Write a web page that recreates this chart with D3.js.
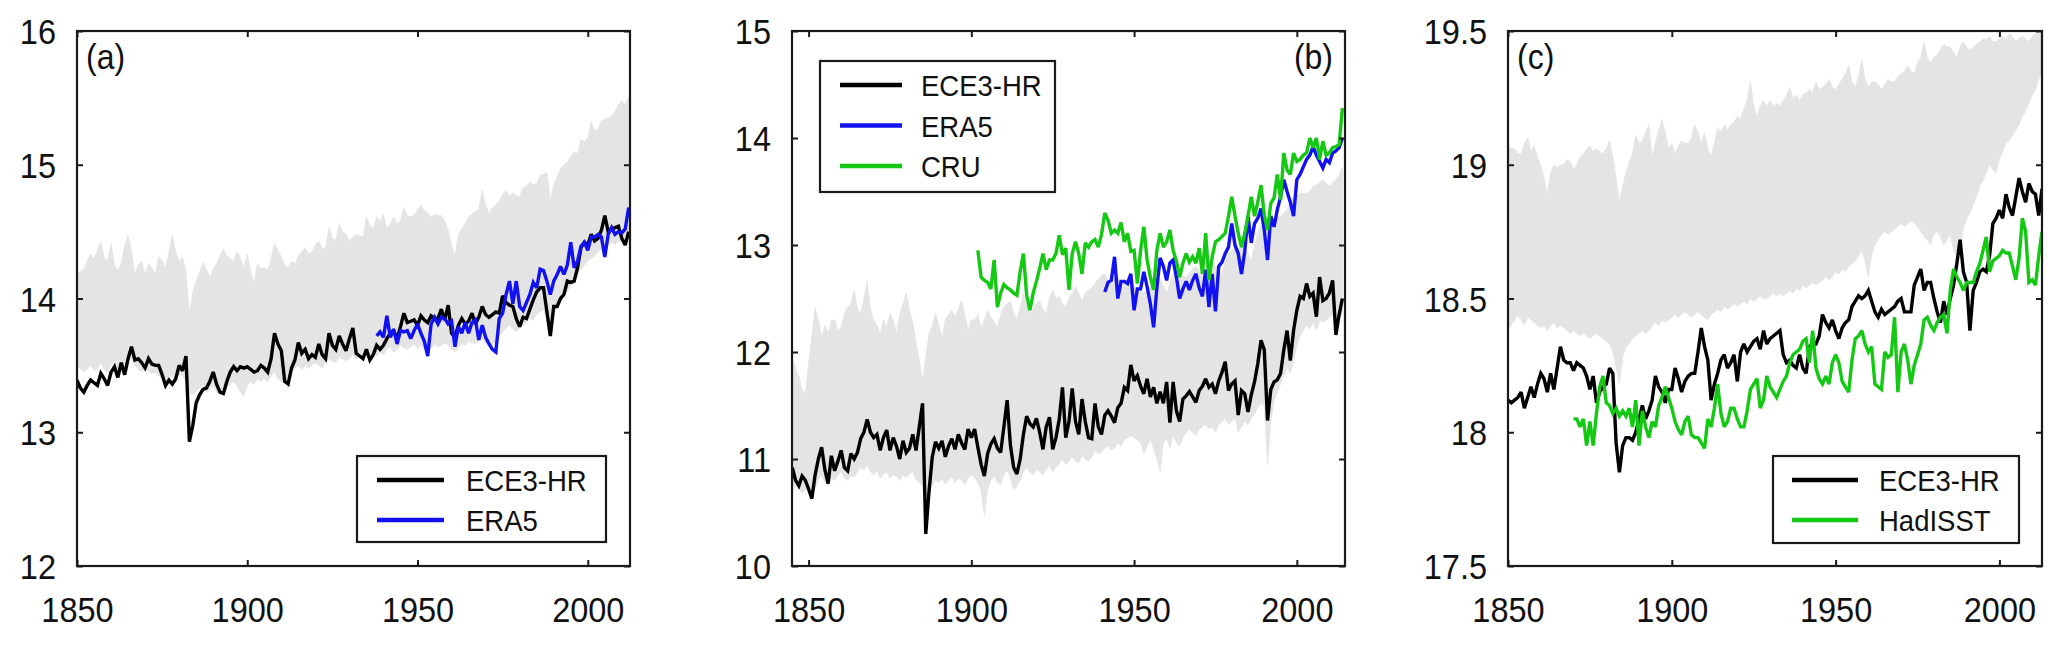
<!DOCTYPE html>
<html>
<head>
<meta charset="utf-8">
<script src="https://cdn.jsdelivr.net/npm/d3@7"></script>
<style>
  html, body { margin: 0; padding: 0; background: #ffffff; }
  svg { display: block; }
</style>
</head>
<body>
<svg id="chart" width="2067" height="646"></svg>
<script>
// ---------------- DATA ----------------
const xTickYears = [1850, 1900, 1950, 2000];

// Panel (a)
const yTicksA = [12, 13, 14, 15, 16];
const startEce3A = 1850;
const ece3A = [
  13.39,13.33,13.30,13.35,13.39,13.37,13.35,13.44,13.40,13.35,
  13.45,13.49,13.41,13.52,13.43,13.55,13.64,13.54,13.55,13.52,
  13.48,13.55,13.51,13.50,13.50,13.43,13.35,13.39,13.36,13.40,
  13.50,13.46,13.57,12.93,13.05,13.22,13.28,13.32,13.33,13.38,
  13.45,13.36,13.30,13.29,13.38,13.45,13.49,13.46,13.49,13.48,
  13.49,13.47,13.45,13.46,13.50,13.48,13.45,13.55,13.74,13.66,
  13.61,13.38,13.36,13.48,13.54,13.67,13.59,13.62,13.55,13.58,
  13.56,13.66,13.58,13.55,13.74,13.65,13.62,13.72,13.66,13.61,
  13.70,13.78,13.59,13.57,13.55,13.62,13.54,13.58,13.65,13.62,
  13.65,13.70,13.74,13.76,13.70,13.79,13.89,13.82,13.83,13.84,
  13.80,13.87,13.84,13.82,13.87,13.85,13.85,13.92,13.84,13.95,
  13.74,13.71,13.80,13.85,13.81,13.83,13.89,13.81,13.86,13.94,
  13.88,13.86,13.88,13.90,13.89,14.02,13.97,13.95,13.94,13.85,
  13.79,13.86,13.85,13.92,13.99,14.05,14.08,14.08,13.90,13.72,
  13.94,13.94,14.00,14.03,14.13,14.12,14.13,14.23,14.38,14.42,
  14.40,14.48,14.43,14.45,14.51,14.62,14.50,14.52,14.53,14.54,
  14.45,14.40,14.50
];
const startEra5A = 1938;
const era5A = [
  13.72,13.75,13.71,13.87,13.71,13.77,13.66,13.76,13.75,13.76,
  13.70,13.76,13.81,13.74,13.68,13.57,13.81,13.86,13.81,13.86,
  13.85,13.81,13.83,13.64,13.79,13.74,13.82,13.74,13.82,13.84,
  13.69,13.80,13.71,13.66,13.62,13.60,13.85,13.89,14.03,14.13,
  13.96,14.13,13.94,13.91,13.97,14.03,14.12,14.08,14.22,14.21,
  14.13,14.03,14.13,14.18,14.24,14.18,14.25,14.42,14.23,14.28,
  14.39,14.42,14.36,14.46,14.46,14.48,14.46,14.31,14.48,14.53,
  14.48,14.50,14.49,14.52,14.68
];
const startBandA = 1850;
const bandHighA = [
  14.18,14.20,14.22,14.28,14.33,14.30,14.36,14.42,14.30,14.28,
  14.41,14.25,14.21,14.26,14.40,14.47,14.35,14.18,14.25,14.28,
  14.18,14.26,14.23,14.18,14.31,14.28,14.23,14.35,14.47,14.35,
  14.28,14.31,14.20,13.89,14.05,14.13,14.20,14.27,14.22,14.16,
  14.22,14.26,14.32,14.37,14.32,14.30,14.28,14.35,14.30,14.23,
  14.33,14.20,14.12,14.26,14.22,14.23,14.21,14.30,14.41,14.36,
  14.31,14.25,14.23,14.28,14.26,14.32,14.35,14.38,14.33,14.35,
  14.40,14.43,14.38,14.37,14.53,14.45,14.43,14.56,14.50,14.48,
  14.43,14.46,14.48,14.47,14.46,14.61,14.55,14.52,14.61,14.58,
  14.63,14.52,14.56,14.61,14.56,14.58,14.68,14.62,14.61,14.62,
  14.66,14.70,14.66,14.64,14.61,14.63,14.62,14.62,14.58,14.51,
  14.40,14.32,14.48,14.52,14.56,14.61,14.63,14.65,14.67,14.81,
  14.70,14.63,14.68,14.70,14.73,14.78,14.81,14.76,14.79,14.77,
  14.76,14.83,14.84,14.87,14.85,14.86,14.92,14.93,14.94,14.73,
  14.85,14.91,14.97,15.00,15.02,15.06,15.10,15.08,15.19,15.17,
  15.20,15.32,15.25,15.27,15.33,15.34,15.35,15.37,15.40,15.45,
  15.48,15.45,15.50
];
const bandLowA = [
  13.50,13.48,13.45,13.47,13.50,13.46,13.48,13.52,13.47,13.45,
  13.50,13.52,13.47,13.50,13.48,13.53,13.55,13.50,13.47,13.45,
  13.48,13.46,13.44,13.45,13.42,13.40,13.38,13.40,13.42,13.40,
  13.43,13.42,13.38,13.30,13.28,13.30,13.33,13.35,13.30,13.32,
  13.35,13.30,13.28,13.30,13.33,13.36,13.38,13.35,13.30,13.27,
  13.35,13.38,13.36,13.40,13.38,13.40,13.38,13.42,13.45,13.40,
  13.38,13.37,13.40,13.45,13.48,13.50,13.47,13.50,13.48,13.50,
  13.52,13.50,13.48,13.52,13.55,13.53,13.52,13.56,13.55,13.53,
  13.55,13.58,13.55,13.56,13.58,13.56,13.58,13.60,13.57,13.60,
  13.58,13.62,13.64,13.60,13.62,13.65,13.63,13.62,13.64,13.66,
  13.63,13.65,13.62,13.60,13.63,13.66,13.64,13.65,13.67,13.65,
  13.62,13.60,13.63,13.66,13.65,13.68,13.67,13.66,13.68,13.70,
  13.67,13.66,13.65,13.68,13.72,13.75,13.78,13.80,13.77,13.75,
  13.78,13.80,13.82,13.85,13.84,13.88,13.90,13.92,13.85,13.78,
  13.88,13.95,14.00,14.03,14.05,14.10,14.13,14.18,14.22,14.25,
  14.28,14.30,14.32,14.35,14.37,14.38,14.40,14.42,14.40,14.43,
  14.42,14.45,14.47
];

// Panel (b)
const yTicksB = [10, 11, 12, 13, 14, 15];
const startEce3B = 1845;
const ece3B = [
  10.92,10.80,10.75,10.84,10.80,10.72,10.63,10.85,11.00,11.11,
  10.90,10.77,11.03,10.89,10.98,11.08,10.92,10.89,11.05,11.00,
  11.06,11.19,11.25,11.37,11.25,11.20,11.23,11.08,11.20,11.27,
  11.08,11.20,11.12,11.00,11.17,11.06,11.10,11.23,11.08,11.30,
  11.52,10.30,10.70,11.02,11.16,11.10,11.17,11.02,11.12,11.19,
  11.09,11.23,11.15,11.09,11.28,11.20,11.28,11.11,10.95,10.84,
  11.05,11.14,11.19,11.10,11.06,11.30,11.55,11.13,10.92,10.86,
  11.00,11.23,11.40,11.33,11.30,11.38,11.25,11.09,11.30,11.39,
  11.09,11.20,11.37,11.67,11.20,11.35,11.66,11.35,11.23,11.56,
  11.35,11.20,11.19,11.52,11.30,11.23,11.41,11.45,11.40,11.34,
  11.48,11.52,11.67,11.64,11.88,11.73,11.78,11.68,11.61,11.75,
  11.58,11.67,11.52,11.63,11.52,11.72,11.34,11.72,11.45,11.35,
  11.56,11.59,11.63,11.58,11.53,11.64,11.68,11.75,11.67,11.70,
  11.61,11.73,11.81,11.91,11.64,11.70,11.73,11.41,11.64,11.61,
  11.44,11.60,11.72,11.89,12.11,12.02,11.36,11.65,11.72,11.74,
  11.80,12.02,12.20,11.92,12.20,12.39,12.52,12.50,12.64,12.52,
  12.55,12.33,12.70,12.48,12.50,12.55,12.67,12.16,12.35,12.50
];
const startEra5B = 1941;
const era5B = [
  12.56,12.65,12.67,12.89,12.50,12.66,12.66,12.64,12.73,12.39,
  12.59,12.59,12.75,12.61,12.45,12.23,12.60,12.88,12.80,12.67,
  12.83,12.86,12.70,12.50,12.59,12.66,12.58,12.67,12.73,12.60,
  12.52,12.77,12.42,12.73,12.38,12.80,12.84,12.92,12.98,13.20,
  13.00,12.92,12.73,12.94,13.27,13.02,13.20,13.25,13.34,13.14,
  12.86,13.27,13.17,13.33,13.45,13.61,13.50,13.40,13.27,13.61,
  13.66,13.73,13.80,13.84,13.92,13.84,13.78,13.72,13.80,13.77,
  13.86,13.88,13.91,14.00
];
const startCruB = 1902;
const cruB = [
  12.95,12.70,12.67,12.65,12.59,12.86,12.42,12.55,12.63,12.60,
  12.58,12.55,12.53,12.75,12.92,12.53,12.39,12.55,12.66,12.78,
  12.92,12.77,12.86,12.86,12.92,13.09,12.91,12.97,12.58,12.92,
  13.03,12.92,12.73,13.02,12.98,13.03,13.05,12.98,13.10,13.30,
  13.23,13.11,13.14,13.11,13.21,13.03,13.11,12.94,12.95,12.64,
  12.95,13.17,12.86,12.70,12.58,12.95,13.11,12.98,13.03,13.14,
  12.95,12.85,12.70,12.83,12.92,12.84,12.89,12.83,12.97,12.73,
  13.11,12.67,12.89,13.03,13.05,13.08,13.11,13.27,13.45,13.27,
  13.11,12.98,13.11,13.27,13.45,13.27,13.40,13.56,13.28,13.14,
  13.39,13.44,13.66,13.42,13.86,13.70,13.66,13.86,13.78,13.80,
  13.84,13.86,14.00,13.91,14.00,13.80,13.97,13.84,13.86,13.91,
  13.92,13.94,14.28
];
const startBandB = 1845;
const bandHighB = [
  11.93,11.85,11.78,11.65,11.61,11.90,12.15,12.42,12.30,12.14,
  12.25,12.17,12.30,12.30,12.20,12.23,12.36,12.42,12.45,12.58,
  12.40,12.36,12.50,12.67,12.40,12.30,12.25,12.17,12.30,12.23,
  12.36,12.30,12.17,12.35,12.45,12.55,12.40,12.27,12.10,11.92,
  11.73,11.95,12.17,12.25,12.36,12.25,12.14,12.30,12.35,12.39,
  12.33,12.40,12.48,12.35,12.20,12.30,12.30,12.35,12.23,12.30,
  12.39,12.33,12.28,12.23,12.35,12.42,12.45,12.48,12.36,12.30,
  12.42,12.55,12.45,12.36,12.40,12.45,12.48,12.40,12.36,12.50,
  12.58,12.50,12.52,12.45,12.42,12.50,12.55,12.61,12.55,12.48,
  12.55,12.58,12.60,12.64,12.68,12.72,12.73,12.67,12.67,12.70,
  12.70,12.66,12.67,12.68,12.70,12.62,12.55,12.58,12.55,12.58,
  12.61,12.62,12.65,12.67,12.62,12.55,12.65,12.73,12.72,12.73,
  12.71,12.70,12.74,12.78,12.80,12.76,12.73,12.80,12.86,12.83,
  12.80,12.77,12.73,12.85,12.92,12.95,12.98,12.97,12.98,12.98,
  12.92,12.86,13.00,13.11,13.20,13.27,13.20,13.14,13.20,13.27,
  13.27,13.30,13.33,13.40,13.45,13.46,13.48,13.48,13.48,13.50,
  13.55,13.56,13.58,13.61,13.58,13.55,13.58,13.61,13.65,13.73
];
const bandLowB = [
  10.70,10.75,10.72,10.68,10.72,10.70,10.65,10.72,10.80,10.85,
  10.78,10.75,10.82,10.80,10.85,10.88,10.82,10.80,10.85,10.83,
  10.88,10.92,10.90,10.95,10.88,10.85,10.90,10.82,10.86,10.88,
  10.82,10.85,10.84,10.80,10.85,10.83,10.86,10.88,10.80,10.78,
  10.75,10.65,10.70,10.75,10.80,10.78,10.82,10.76,10.80,10.84,
  10.78,10.82,10.80,10.76,10.82,10.85,10.83,10.78,10.70,10.47,
  10.72,10.80,10.84,10.78,10.76,10.85,10.90,10.82,10.72,10.74,
  10.80,10.88,10.92,10.88,10.85,10.90,10.88,10.85,10.90,10.94,
  10.88,10.92,10.96,11.00,10.95,10.98,11.02,10.98,10.96,11.04,
  11.00,10.98,11.02,11.08,11.05,11.06,11.10,11.12,11.08,11.10,
  11.15,11.12,11.18,11.20,11.22,11.20,11.18,11.15,11.05,11.12,
  11.18,11.10,11.00,10.88,11.15,11.20,11.10,11.22,11.15,11.12,
  11.20,11.25,11.28,11.25,11.22,11.28,11.30,11.32,11.28,11.30,
  11.25,11.32,11.35,11.38,11.32,11.35,11.38,11.25,11.30,11.35,
  11.32,11.38,11.42,11.48,11.52,11.50,10.95,11.35,11.55,11.62,
  11.70,11.78,11.85,11.80,11.92,12.05,12.15,12.20,12.25,12.22,
  12.28,12.20,12.30,12.28,12.30,12.32,12.35,12.25,12.30,12.36
];

// Panel (c)
const yTicksC = [17.5, 18, 18.5, 19, 19.5];
const startEce3C = 1850;
const ece3C = [
  18.12,18.11,18.12,18.13,18.15,18.09,18.13,18.17,18.13,18.18,
  18.22,18.20,18.15,18.22,18.16,18.24,18.32,18.27,18.26,18.26,
  18.23,18.26,18.25,18.24,18.21,18.16,18.21,18.11,18.15,18.17,
  18.18,18.24,18.22,17.96,17.85,17.95,17.98,17.98,17.97,18.00,
  18.05,18.10,18.05,18.08,18.12,18.21,18.17,18.15,18.11,18.16,
  18.16,18.24,18.20,18.15,18.19,18.21,18.22,18.22,18.30,18.39,
  18.32,18.27,18.12,18.18,18.22,18.27,18.29,18.24,18.26,18.29,
  18.19,18.30,18.33,18.30,18.32,18.34,18.35,18.31,18.38,18.33,
  18.35,18.36,18.37,18.38,18.29,18.26,18.27,18.25,18.24,18.29,
  18.24,18.22,18.32,18.33,18.33,18.36,18.44,18.41,18.39,18.42,
  18.38,18.35,18.39,18.41,18.42,18.47,18.49,18.51,18.50,18.51,
  18.53,18.49,18.45,18.43,18.46,18.44,18.45,18.46,18.47,18.49,
  18.50,18.45,18.45,18.45,18.55,18.58,18.61,18.53,18.56,18.56,
  18.50,18.45,18.41,18.49,18.44,18.50,18.55,18.63,18.72,18.60,
  18.56,18.38,18.53,18.56,18.60,18.61,18.60,18.66,18.78,18.80,
  18.83,18.80,18.89,18.84,18.81,18.88,18.95,18.90,18.86,18.93,
  18.90,18.89,18.81,18.91
];
const startHadisstC = 1870;
const hadisstC = [
  18.05,18.05,18.02,18.05,17.95,18.04,17.95,18.07,18.17,18.21,
  18.11,18.10,18.07,18.09,18.06,18.08,18.06,18.09,18.02,18.12,
  17.95,18.08,18.02,17.98,18.04,18.02,18.10,18.13,18.17,18.13,
  18.09,18.04,18.01,17.99,18.04,18.06,17.99,17.98,17.98,17.96,
  17.94,18.05,18.02,18.09,18.18,18.07,18.02,18.04,18.09,18.09,
  18.05,18.02,18.02,18.08,18.16,18.18,18.20,18.09,18.12,18.21,
  18.17,18.15,18.13,18.16,18.19,18.21,18.26,18.29,18.30,18.31,
  18.34,18.35,18.26,18.38,18.24,18.20,18.18,18.21,18.18,18.26,
  18.29,18.26,18.19,18.17,18.15,18.27,18.35,18.36,18.38,18.33,
  18.30,18.32,18.18,18.17,18.16,18.30,18.28,18.29,18.43,18.15,
  18.30,18.33,18.27,18.18,18.25,18.29,18.33,18.42,18.43,18.40,
  18.38,18.41,18.43,18.44,18.37,18.53,18.61,18.58,18.56,18.53,
  18.56,18.56,18.56,18.60,18.63,18.68,18.73,18.60,18.64,18.65,
  18.66,18.68,18.67,18.67,18.62,18.57,18.65,18.80,18.75,18.56,
  18.57,18.55,18.66,18.75
];
const startBandC = 1850;
const bandHighC = [
  19.07,19.06,19.06,19.04,19.04,19.08,19.10,19.05,19.07,19.03,
  19.00,18.95,18.89,18.97,19.00,18.99,19.00,19.00,19.02,19.01,
  18.98,19.00,19.03,19.04,19.06,19.07,19.05,19.06,19.05,19.04,
  19.06,19.09,19.03,18.95,18.86,18.92,18.97,19.01,19.04,19.11,
  19.08,19.09,19.12,19.15,19.03,19.08,19.13,19.17,19.12,19.06,
  19.08,19.04,19.07,19.09,19.08,19.08,19.10,19.15,19.12,19.08,
  19.12,19.06,19.03,19.08,19.14,19.12,19.15,19.13,19.15,19.16,
  19.18,19.17,19.21,19.24,19.31,19.22,19.18,19.22,19.24,19.22,
  19.24,19.22,19.23,19.22,19.24,19.26,19.29,19.25,19.26,19.24,
  19.26,19.27,19.28,19.27,19.31,19.28,19.29,19.30,19.32,19.29,
  19.28,19.30,19.32,19.34,19.37,19.31,19.29,19.33,19.39,19.32,
  19.29,19.31,19.31,19.30,19.28,19.30,19.32,19.31,19.31,19.33,
  19.34,19.35,19.37,19.35,19.34,19.38,19.40,19.46,19.40,19.38,
  19.40,19.41,19.43,19.45,19.44,19.44,19.42,19.40,19.44,19.46,
  19.44,19.43,19.44,19.45,19.46,19.47,19.47,19.48,19.46,19.46,
  19.47,19.48,19.47,19.49,19.48,19.46,19.47,19.48,19.47,19.46,
  19.48,19.49,19.49,19.49
];
const bandLowC = [
  18.38,18.40,18.42,18.44,18.42,18.40,18.43,18.42,18.41,18.40,
  18.39,18.40,18.38,18.40,18.41,18.39,18.40,18.39,18.38,18.37,
  18.38,18.37,18.36,18.37,18.36,18.35,18.36,18.37,18.36,18.35,
  18.34,18.33,18.30,18.24,18.18,18.28,18.32,18.33,18.35,18.36,
  18.37,18.38,18.37,18.38,18.40,18.41,18.40,18.42,18.41,18.42,
  18.43,18.44,18.43,18.44,18.45,18.44,18.43,18.44,18.45,18.44,
  18.43,18.42,18.44,18.45,18.46,18.45,18.47,18.46,18.47,18.48,
  18.47,18.48,18.49,18.48,18.50,18.49,18.50,18.51,18.50,18.50,
  18.51,18.52,18.51,18.52,18.51,18.52,18.53,18.52,18.54,18.53,
  18.55,18.54,18.55,18.56,18.55,18.56,18.57,18.58,18.57,18.58,
  18.60,18.59,18.61,18.60,18.62,18.63,18.64,18.66,18.68,18.64,
  18.58,18.66,18.70,18.72,18.74,18.75,18.74,18.75,18.76,18.77,
  18.78,18.77,18.78,18.79,18.78,18.77,18.75,18.73,18.72,18.70,
  18.74,18.75,18.73,18.70,18.72,18.74,18.68,18.66,18.70,18.76,
  18.80,18.82,18.85,18.88,18.92,18.94,18.97,19.00,18.98,18.97,
  19.02,19.05,19.08,19.09,19.11,19.13,19.15,19.18,19.20,19.23,
  19.26,19.28,19.32,19.35
];

// ---------------- HELPERS ----------------
const toSeries = (start, values) => values.map((v, i) => ({ year: start + i, value: v }));
const toBand = (start, lo, hi) => lo.map((v, i) => ({ year: start + i, lo: v, hi: hi[i] }));

const COLORS = { ece3: "#000000", era5: "#1212f0", obsGreen: "#14c814", band: "#e4e4e4", frame: "#1a1a1a", text: "#111111" };
const FONT = "'Liberation Sans', Arial, Helvetica, sans-serif";
const STRETCH = 1.08;

// ---------------- LAYOUT ----------------
const panels = [
  {
    id: "a", label: "(a)", labelAnchor: "start",
    left: 77, right: 630, top: 31, bottom: 566,
    xDomain: [1850, 2012.4], yDomain: [12, 16], yTicks: yTicksA,
    band: toBand(startBandA, bandLowA, bandHighA),
    lines: [
      { name: "ECE3-HR", color: COLORS.ece3, data: toSeries(startEce3A, ece3A) },
      { name: "ERA5", color: COLORS.era5, data: toSeries(startEra5A, era5A) }
    ],
    legend: { x: 357, y: 456, w: 249, h: 86, lx0: 377, lx1: 444, tx: 466, row0: 480, step: 40 }
  },
  {
    id: "b", label: "(b)", labelAnchor: "end",
    left: 792, right: 1345, top: 31, bottom: 566,
    xDomain: [1844.9, 2014.8], yDomain: [10, 15], yTicks: yTicksB,
    band: toBand(startBandB, bandLowB, bandHighB),
    lines: [
      { name: "ECE3-HR", color: COLORS.ece3, data: toSeries(startEce3B, ece3B) },
      { name: "ERA5", color: COLORS.era5, data: toSeries(startEra5B, era5B) },
      { name: "CRU", color: COLORS.obsGreen, data: toSeries(startCruB, cruB) }
    ],
    legend: { x: 820, y: 61, w: 235, h: 131, lx0: 840, lx1: 902, tx: 921, row0: 85, step: 40.5 }
  },
  {
    id: "c", label: "(c)", labelAnchor: "start",
    left: 1508, right: 2042, top: 31, bottom: 566,
    xDomain: [1850, 2013], yDomain: [17.5, 19.5], yTicks: yTicksC,
    band: toBand(startBandC, bandLowC, bandHighC),
    lines: [
      { name: "ECE3-HR", color: COLORS.ece3, data: toSeries(startEce3C, ece3C) },
      { name: "HadISST", color: COLORS.obsGreen, data: toSeries(startHadisstC, hadisstC) }
    ],
    legend: { x: 1773, y: 456, w: 246, h: 87, lx0: 1792, lx1: 1858, tx: 1879, row0: 480, step: 40 }
  }
];

// ---------------- DRAW ----------------
const svg = d3.select("#chart");
svg.append("rect").attr("width", 2067).attr("height", 646).attr("fill", "#ffffff");

function drawPanel(p) {
  const g = svg.append("g").attr("class", "panel-" + p.id);
  const x = d3.scaleLinear().domain(p.xDomain).range([p.left, p.right]);
  const y = d3.scaleLinear().domain(p.yDomain).range([p.bottom, p.top]);

  const clipId = "clip-" + p.id;
  svg.append("defs").append("clipPath").attr("id", clipId)
    .append("rect").attr("x", p.left).attr("y", p.top)
    .attr("width", p.right - p.left).attr("height", p.bottom - p.top);

  const plot = g.append("g").attr("clip-path", `url(#${clipId})`);

  // spread band
  const area = d3.area().x(d => x(d.year)).y0(d => y(d.lo)).y1(d => y(d.hi));
  plot.append("path").datum(p.band).attr("d", area)
    .attr("fill", COLORS.band).attr("stroke", COLORS.band).attr("stroke-width", 0.8);

  // series lines
  const line = d3.line().x(d => x(d.year)).y(d => y(d.value));
  p.lines.forEach(s => {
    plot.append("path").datum(s.data).attr("d", line)
      .attr("fill", "none").attr("stroke", s.color).attr("stroke-width", 3.4)
      .attr("stroke-linejoin", "miter").attr("stroke-miterlimit", 2.5);
  });

  // axes (inward ticks, box on)
  const tickLen = 6;
  const fmt = d3.format("~g");
  const bottomAxis = g.append("g").attr("transform", `translate(0,${p.bottom})`)
    .call(d3.axisBottom(x).tickValues(xTickYears).tickSize(-tickLen).tickFormat(fmt));
  const topAxis = g.append("g").attr("transform", `translate(0,${p.top})`)
    .call(d3.axisTop(x).tickValues(xTickYears).tickSize(-tickLen).tickFormat(""));
  const leftAxis = g.append("g").attr("transform", `translate(${p.left},0)`)
    .call(d3.axisLeft(y).tickValues(p.yTicks).tickSize(-tickLen).tickFormat(fmt));
  const rightAxis = g.append("g").attr("transform", `translate(${p.right},0)`)
    .call(d3.axisRight(y).tickValues(p.yTicks).tickSize(-tickLen).tickFormat(""));

  [bottomAxis, topAxis, leftAxis, rightAxis].forEach(ax => {
    ax.select(".domain").remove();
    ax.selectAll(".tick line").attr("stroke", COLORS.frame).attr("stroke-width", 2);
    ax.selectAll("text").attr("font-family", FONT).attr("font-size", 32.5).attr("fill", COLORS.text);
  });
  bottomAxis.selectAll(".tick text")
    .attr("x", 0).attr("y", 0).attr("dy", null)
    .attr("text-anchor", "middle")
    .attr("transform", `translate(0,56) scale(1,${STRETCH})`);
  leftAxis.selectAll(".tick text")
    .attr("x", 0).attr("y", 0).attr("dy", null)
    .attr("text-anchor", "end")
    .attr("transform", `translate(-21,12.5) scale(1,${STRETCH})`);

  // frame
  g.append("rect").attr("x", p.left).attr("y", p.top)
    .attr("width", p.right - p.left).attr("height", p.bottom - p.top)
    .attr("fill", "none").attr("stroke", COLORS.frame).attr("stroke-width", 2.2);

  // panel label
  const lx = p.labelAnchor === "start" ? p.left + 9 : p.right - 12;
  g.append("text").text(p.label)
    .attr("text-anchor", p.labelAnchor)
    .attr("font-family", FONT).attr("font-size", 32).attr("fill", COLORS.text)
    .attr("transform", `translate(${lx},69) scale(1,${STRETCH})`);

  // legend
  const L = p.legend;
  const lg = g.append("g").attr("class", "legend");
  lg.append("rect").attr("x", L.x).attr("y", L.y).attr("width", L.w).attr("height", L.h)
    .attr("fill", "#ffffff").attr("stroke", COLORS.frame).attr("stroke-width", 2.2);
  p.lines.forEach((s, i) => {
    const ly = L.row0 + i * L.step;
    lg.append("line").attr("x1", L.lx0).attr("x2", L.lx1).attr("y1", ly).attr("y2", ly)
      .attr("stroke", s.color).attr("stroke-width", 4.5);
    lg.append("text").text(s.name)
      .attr("font-family", FONT).attr("font-size", 27.5).attr("fill", COLORS.text)
      .attr("transform", `translate(${L.tx},${ly + 11}) scale(1,${STRETCH})`);
  });
}

panels.forEach(drawPanel);
</script>
</body>
</html>
